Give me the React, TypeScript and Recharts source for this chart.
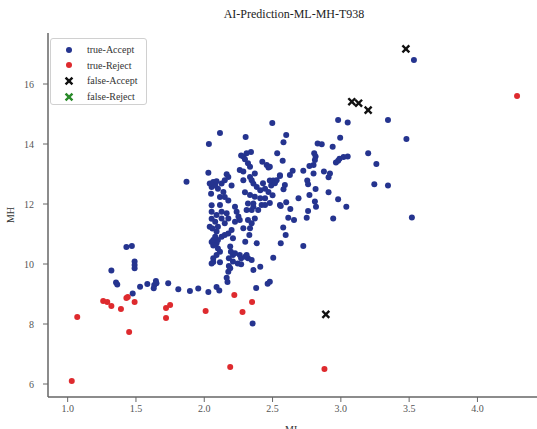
import React from 'react';
import { ScatterChart, Scatter, XAxis, YAxis } from 'recharts';

const title = 'AI-Prediction-ML-MH-T938';
const xTicks = [1.0, 1.5, 2.0, 2.5, 3.0, 3.5, 4.0];
const yTicks = [6, 8, 10, 12, 14, 16];

const trueAccept: [number, number][] = [
  [1.32,9.78],[1.354,9.38],[1.363,9.32],[1.43,10.57],[1.47,10.6],[1.49,10.08],[1.49,9.97],[1.49,9.86],[1.476,9.02],[1.53,9.24],[1.583,9.33],[1.634,9.3],[1.646,9.43],[1.65,9.36],[1.63,9.19],[1.736,9.36],[1.81,9.16],[1.895,9.1],[1.956,9.18],[2.03,9.07],[2.09,9.23],[2.11,9.12],[2.17,9.4],[2.38,9.2],[2.464,9.34],[2.354,8.02],[2.48,9.41],
  [2.164,9.54],[2.176,9.74],[2.18,9.93],[2.19,9.86],[2.36,9.8],[2.41,9.91],[2.27,9.99],[2.245,10.02],[2.066,10.07],[2.054,10.02],[2.115,10.06],[2.066,10.19],[2.18,10.19],[2.27,10.19],[2.32,10.19],[2.30,10.24],[2.347,10.13],[2.21,10.3],[2.26,10.3],[2.31,10.3],[2.195,10.41],[2.09,10.3],[2.115,10.41],[2.10,10.52],[2.09,10.69],[2.066,10.62],[2.054,10.73],[2.19,10.58],[2.225,10.36],[2.21,10.08],[2.505,10.21],[2.725,10.6],[2.56,10.69],[2.384,10.69],[2.30,10.74],[2.33,10.97],[2.21,10.86],[2.066,10.8],[2.10,10.8],[2.08,10.91],[2.127,10.91],[2.15,10.97],[2.176,11.02],[2.09,11.08],[2.20,11.13],[2.596,10.97],
  [2.04,11.24],[2.06,11.18],[2.10,11.24],[2.15,11.36],[2.08,11.41],[2.054,11.51],[2.127,11.52],[2.176,11.52],[2.09,11.63],[2.164,11.69],[2.127,11.74],[2.054,11.74],[2.225,11.91],[2.237,11.74],[2.25,11.58],[2.26,11.47],[2.225,11.41],[2.286,11.19],[2.335,11.19],[2.347,11.36],[2.37,11.52],[2.32,11.47],[2.31,11.8],[2.347,11.8],[2.395,11.8],[2.36,11.91],[2.445,11.97],[2.36,12.02],[2.32,12.02],[2.42,11.97],[2.554,11.97],[2.115,11.97],[2.054,11.96],[2.578,11.22],[2.615,11.54],[2.657,11.47],[2.75,11.54],[2.76,11.77],[2.944,11.52],[3.52,11.55],
  [2.115,12.23],[2.15,12.23],[2.176,12.12],[2.14,12.4],[2.10,12.51],[2.05,12.34],[2.054,12.57],[2.08,12.62],[2.04,12.68],[2.066,12.73],[2.09,12.76],[2.127,12.68],[2.15,12.79],[2.164,12.99],[2.176,12.9],[2.20,12.62],[2.03,13.04],[1.87,12.74],[2.26,13.13],[2.286,13.08],[2.286,12.79],[2.335,12.9],[2.347,12.79],[2.36,12.68],[2.298,12.39],[2.335,12.3],[2.37,12.24],[2.41,12.19],[2.445,12.19],[2.384,12.57],[2.41,12.46],[2.445,12.51],[2.47,12.4],[2.49,12.62],[2.53,12.79],[2.554,12.96],[2.43,12.69],[2.37,13.02],[2.50,12.29],[2.48,12.03],[2.60,12.06],[2.56,11.93],[2.63,11.83],[2.69,12.19],[2.77,12.3],[2.81,12.08],[2.818,11.91],[2.98,12.16],[3.04,11.91],[2.91,12.39],[2.815,12.5],[2.59,12.63],[2.58,12.49],[2.754,12.78],[2.76,12.66],[2.505,12.78],[2.517,12.69],[2.48,12.78],
  [2.286,13.58],[2.298,13.49],[2.32,13.36],[2.335,13.24],[2.27,13.62],[2.31,13.69],[2.342,13.73],[2.425,13.41],[2.47,13.22],[2.457,13.3],[2.48,13.24],[2.534,13.69],[2.574,13.44],[2.58,14.06],[2.60,14.3],[2.498,14.7],[2.115,14.37],[2.303,14.23],[2.034,14.0],[2.647,13.11],[2.627,12.97],[2.725,13.11],[2.77,13.27],[2.80,13.02],[2.876,13.08],[2.92,13.02],[2.91,12.89],[2.805,13.69],[2.815,13.58],[2.81,13.47],[2.80,13.3],[2.964,13.38],[2.98,13.44],[2.99,13.51],[3.02,13.57],[3.05,13.58],[2.83,14.02],[2.86,13.99],[2.995,14.21],[2.94,13.91],[2.98,14.8],[3.05,14.72],[3.345,14.8],[3.48,14.17],[3.20,13.69],[3.26,13.33],[3.245,12.66],[3.345,12.62],[3.535,16.8],[2.554,12.93]
];

const trueReject: [number, number][] = [
  [1.03,6.1],[1.07,8.23],[1.26,8.77],[1.29,8.73],[1.32,8.6],[1.39,8.5],[1.43,8.87],[1.44,8.9],[1.49,8.73],[1.45,7.73],[1.72,8.53],[1.75,8.63],[1.72,8.2],[2.01,8.43],[2.19,6.57],[2.22,8.97],[2.28,8.4],[2.35,8.73],[2.88,6.5],[4.29,15.6]
];

const falseAccept: [number, number][] = [
  [3.476,17.17],[3.08,15.41],[3.13,15.36],[3.20,15.13],[2.89,8.32]
];

const falseReject: [number, number][] = [];

const toObj = (arr: [number, number][]) => arr.map(([x, y]) => ({ x, y }));

const BLUE = '#25348f';
const RED = '#de2a2e';
const BLACK = '#111111';
const GREEN = '#2a8a2a';

const Dot = (color: string) => (p: any) => (
  <circle cx={p.cx} cy={p.cy} r={3} fill={color} />
);
const Cross = (color: string) => (p: any) => (
  <g stroke={color} strokeWidth={2.4} strokeLinecap="square">
    <line x1={p.cx - 2.6} y1={p.cy - 2.6} x2={p.cx + 2.6} y2={p.cy + 2.6} />
    <line x1={p.cx - 2.6} y1={p.cy + 2.6} x2={p.cx + 2.6} y2={p.cy - 2.6} />
  </g>
);

const legendItems = [
  { name: 'true-Accept', color: BLUE, kind: 'dot' },
  { name: 'true-Reject', color: RED, kind: 'dot' },
  { name: 'false-Accept', color: BLACK, kind: 'x' },
  { name: 'false-Reject', color: GREEN, kind: 'x' },
];

const FONT = '"Liberation Serif", "DejaVu Serif", serif';

const LegendBox = () => (
  <div style={{ position: 'absolute', left: 50, top: 38, boxSizing: 'border-box', width: 97, height: 67, border: '1px solid #d0d0d0', borderRadius: 3, background: '#fff', padding: '3px 0 0 12px' }}>
    {legendItems.map((it) => (
      <div key={it.name} style={{ display: 'flex', alignItems: 'center', height: 15.6, fontFamily: FONT, fontSize: 10, color: '#333', whiteSpace: 'nowrap' }}>
        <svg width={12} height={10} style={{ marginRight: 12, flexShrink: 0 }}>
          {it.kind === 'dot' ? (
            <circle cx={6} cy={5} r={3} fill={it.color} />
          ) : (
            <g stroke={it.color} strokeWidth={2.4} strokeLinecap="square">
              <line x1={3.4} y1={2.4} x2={8.6} y2={7.6} />
              <line x1={3.4} y1={7.6} x2={8.6} y2={2.4} />
            </g>
          )}
        </svg>
        <span>{it.name}</span>
      </div>
    ))}
  </div>
);

const tickStyle = { fontFamily: FONT, fontSize: 10, fill: '#555' };
const X_DOMAIN: [number, number] = [0.856, 4.436];
const Y_DOMAIN: [number, number] = [5.567, 17.7];

export default function App() {
  return (
    <div style={{ position: 'absolute', left: 0, top: 0, width: 537, height: 429, background: '#fff', overflow: 'hidden' }}>
      <div style={{ position: 'absolute', left: 194, top: 7, width: 200, textAlign: 'center', fontFamily: FONT, fontSize: 12, color: '#222' }}>
        {title}
      </div>
      <ScatterChart width={537} height={429} margin={{ top: 33, right: 0, bottom: 0, left: 0 }}>
        <XAxis xAxisId="top" orientation="top" type="number" domain={X_DOMAIN} allowDataOverflow tick={false} tickLine={false} height={0} axisLine={{ stroke: '#666', strokeWidth: 1.5 }} />
        <XAxis
          type="number"
          dataKey="x"
          domain={X_DOMAIN}
          allowDataOverflow
          ticks={xTicks}
          tickFormatter={(v: number) => v.toFixed(1)}
          height={32}
          tickSize={5}
          tickMargin={3}
          tick={tickStyle}
          axisLine={{ stroke: '#666', strokeWidth: 1.5 }}
          tickLine={{ stroke: '#666' }}
          label={{ value: 'ML', position: 'insideBottom', offset: -4, style: { ...tickStyle, fill: '#333' } }}
        />
        <YAxis
          type="number"
          dataKey="y"
          domain={Y_DOMAIN}
          allowDataOverflow
          ticks={yTicks}
          width={48}
          tickSize={5}
          tickMargin={9}
          tick={tickStyle}
          axisLine={{ stroke: '#666', strokeWidth: 1.5 }}
          tickLine={{ stroke: '#666' }}
          label={{ value: 'MH', angle: -90, position: 'insideLeft', offset: 10, style: { ...tickStyle, fill: '#333', textAnchor: 'middle' } }}
        />
        <Scatter name="true-Accept" data={toObj(trueAccept)} fill={BLUE} shape={Dot(BLUE)} isAnimationActive={false} />
        <Scatter name="true-Reject" data={toObj(trueReject)} fill={RED} shape={Dot(RED)} isAnimationActive={false} />
        <Scatter name="false-Accept" data={toObj(falseAccept)} fill={BLACK} shape={Cross(BLACK)} isAnimationActive={false} />
        <Scatter name="false-Reject" data={toObj(falseReject)} fill={GREEN} shape={Cross(GREEN)} isAnimationActive={false} />
      </ScatterChart>
      <LegendBox />
    </div>
  );
}
